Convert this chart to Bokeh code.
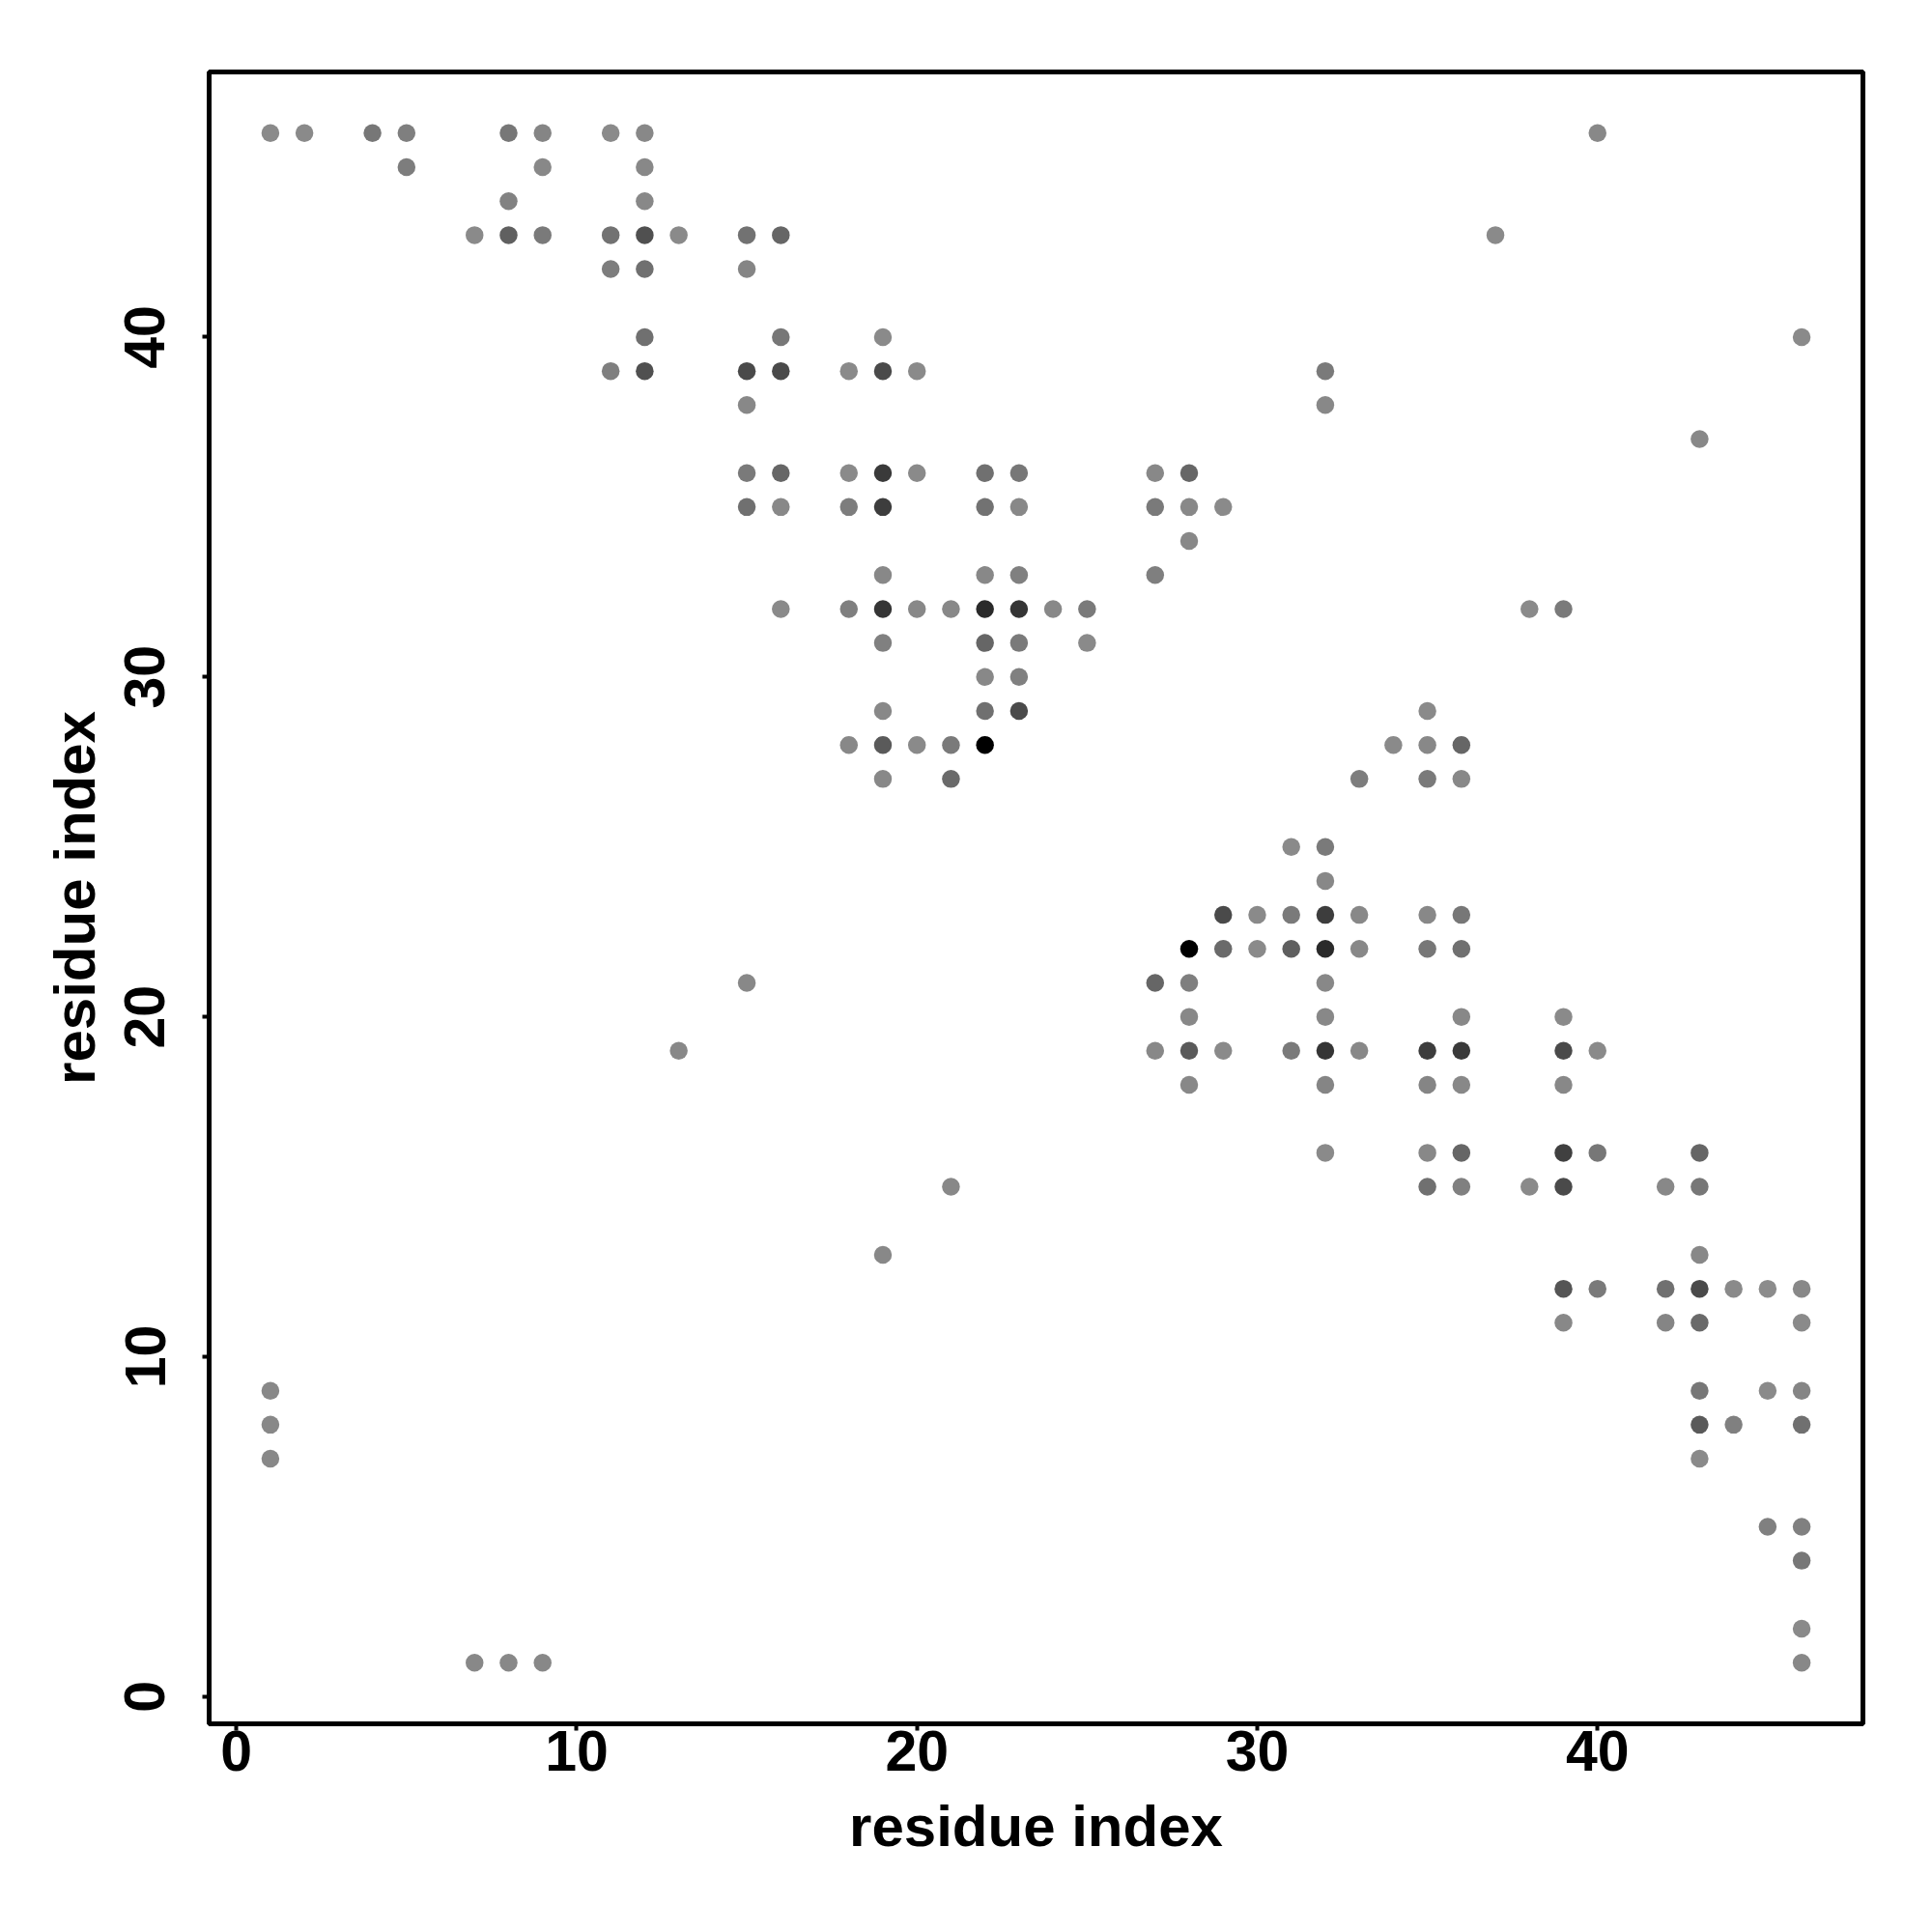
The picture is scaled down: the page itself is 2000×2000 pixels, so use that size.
from bokeh.plotting import figure
from bokeh.models import Range1d, FixedTicker, ColumnDataSource
from bokeh.embed import file_html
from bokeh.resources import INLINE

# contact map: residue i (x), residue j (y), grey level of the point (0 = black, 255 = white)
res_i = [1, 2, 4, 5, 8, 9, 11, 12, 40,
         5, 9, 12,
         8, 12,
         7, 8, 9, 11, 12, 13, 15, 16, 37,
         11, 12, 15,
         12, 16, 19, 46,
         11, 12, 15, 16, 18, 19, 20, 32,
         15, 32,
         43,
         15, 16, 18, 19, 20, 22, 23, 27, 28,
         15, 16, 18, 19, 22, 23, 27, 28, 29,
         28,
         19, 22, 23, 27,
         16, 18, 19, 20, 21, 22, 23, 24, 25, 38, 39,
         19, 22, 23, 25,
         22, 23,
         19, 22, 23, 35,
         18, 19, 20, 21, 22, 34, 35, 36,
         19, 21, 33, 35, 36,
         31, 32,
         32,
         29, 30, 31, 32, 33, 35, 36,
         28, 29, 30, 31, 32, 33, 35, 36,
         15, 27, 28, 32,
         28, 32, 36, 39,
         13, 27, 28, 29, 31, 32, 33, 35, 36, 39, 40,
         28, 32, 35, 36, 39,
         32, 35, 36, 39, 40, 43,
         21, 35, 36, 38, 39, 42, 43,
         19, 43,
         39, 40, 42, 43, 44, 45, 46,
         39, 42, 43, 46,
         1, 43, 45, 46,
         1, 43, 44, 46,
         1, 43,
         45, 46,
         46,
         46,
         7, 8, 9, 46]

res_j = [46, 46, 46, 46, 46, 46, 46, 46, 46,
         45, 45, 45,
         44, 44,
         43, 43, 43, 43, 43, 43, 43, 43, 43,
         42, 42, 42,
         40, 40, 40, 40,
         39, 39, 39, 39, 39, 39, 39, 39,
         38, 38,
         37,
         36, 36, 36, 36, 36, 36, 36, 36, 36,
         35, 35, 35, 35, 35, 35, 35, 35, 35,
         34,
         33, 33, 33, 33,
         32, 32, 32, 32, 32, 32, 32, 32, 32, 32, 32,
         31, 31, 31, 31,
         30, 30,
         29, 29, 29, 29,
         28, 28, 28, 28, 28, 28, 28, 28,
         27, 27, 27, 27, 27,
         25, 25,
         24,
         23, 23, 23, 23, 23, 23, 23,
         22, 22, 22, 22, 22, 22, 22, 22,
         21, 21, 21, 21,
         20, 20, 20, 20,
         19, 19, 19, 19, 19, 19, 19, 19, 19, 19, 19,
         18, 18, 18, 18, 18,
         16, 16, 16, 16, 16, 16,
         15, 15, 15, 15, 15, 15, 15,
         13, 13,
         12, 12, 12, 12, 12, 12, 12,
         11, 11, 11, 11,
         9, 9, 9, 9,
         8, 8, 8, 8,
         7, 7,
         5, 5,
         4,
         2,
         1, 1, 1, 1]

shade = [0x8a, 0x8a, 0x77, 0x7f, 0x77, 0x85, 0x8a, 0x88, 0x88,
         0x7d, 0x88, 0x88,
         0x82, 0x88,
         0x8a, 0x60, 0x7a, 0x72, 0x50, 0x8a, 0x72, 0x66, 0x8a,
         0x7d, 0x70, 0x85,
         0x70, 0x77, 0x8a, 0x8a,
         0x7f, 0x50, 0x4a, 0x4a, 0x8a, 0x4a, 0x8a, 0x7a,
         0x88, 0x88,
         0x88,
         0x7a, 0x66, 0x8a, 0x3a, 0x8a, 0x70, 0x77, 0x88, 0x66,
         0x70, 0x88, 0x7d, 0x3d, 0x72, 0x88, 0x7a, 0x88, 0x8a,
         0x88,
         0x88, 0x88, 0x80, 0x7f,
         0x8a, 0x7f, 0x35, 0x88, 0x88, 0x2a, 0x35, 0x88, 0x7a, 0x8a, 0x7a,
         0x80, 0x66, 0x7a, 0x8a,
         0x88, 0x80,
         0x88, 0x70, 0x4a, 0x8a,
         0x88, 0x5a, 0x8a, 0x7a, 0x00, 0x8a, 0x88, 0x66,
         0x88, 0x6a, 0x7d, 0x7a, 0x88,
         0x8a, 0x7a,
         0x88,
         0x4a, 0x8a, 0x7a, 0x3d, 0x88, 0x88, 0x77,
         0x00, 0x6a, 0x8a, 0x5f, 0x2a, 0x88, 0x77, 0x70,
         0x88, 0x66, 0x7f, 0x88,
         0x88, 0x88, 0x88, 0x8a,
         0x88, 0x88, 0x5a, 0x8a, 0x7a, 0x35, 0x88, 0x3d, 0x3a, 0x4a, 0x8a,
         0x88, 0x85, 0x85, 0x88, 0x88,
         0x8a, 0x88, 0x66, 0x40, 0x77, 0x66,
         0x88, 0x70, 0x80, 0x8a, 0x4a, 0x88, 0x77,
         0x88, 0x88,
         0x55, 0x7a, 0x70, 0x4a, 0x8a, 0x8c, 0x88,
         0x88, 0x85, 0x6a, 0x8a,
         0x88, 0x77, 0x8a, 0x85,
         0x88, 0x5a, 0x80, 0x70,
         0x88, 0x8a,
         0x80, 0x80,
         0x77,
         0x8a,
         0x88, 0x88, 0x88, 0x88]

tick_values = [0, 10, 20, 30, 40]

colors = ["#%02x%02x%02x" % (g, g, g) for g in shade]
src = ColumnDataSource(dict(x=res_i, y=res_j, c=colors))

p = figure(width=1984, height=1984, output_backend="svg", toolbar_location=None,
           x_range=Range1d(-0.8, 47.8), y_range=Range1d(-0.8, 47.8),
           min_border_left=216, min_border_right=56, min_border_top=74, min_border_bottom=200,
           x_axis_label="residue index", y_axis_label="residue index")

p.scatter("x", "y", source=src, size=18.5, fill_color="c", line_color=None)

p.grid.visible = False
p.outline_line_color = "black"
p.outline_line_width = 5
p.background_fill_color = "white"
p.border_fill_color = "white"

for ax in (p.xaxis[0], p.yaxis[0]):
    ax.ticker = FixedTicker(ticks=tick_values)
    ax.axis_line_color = None
    ax.major_tick_line_color = "black"
    ax.major_tick_line_width = 4
    ax.major_tick_in = 0
    ax.major_tick_out = 7
    ax.minor_tick_line_color = None
    ax.major_label_text_font = "Liberation Sans"
    ax.major_label_text_font_style = "bold"
    ax.major_label_text_font_size = "59px"
    ax.major_label_text_color = "black"
    ax.axis_label_text_font = "Liberation Sans"
    ax.axis_label_text_font_style = "bold"
    ax.axis_label_text_font_size = "60px"
    ax.axis_label_text_color = "black"

p.xaxis[0].major_label_standoff = 0
p.xaxis[0].axis_label_standoff = 21
p.yaxis[0].major_label_orientation = "vertical"
p.yaxis[0].major_label_standoff = 39
p.yaxis[0].axis_label_standoff = 16

open("out.html", "w").write(file_html(p, INLINE))
